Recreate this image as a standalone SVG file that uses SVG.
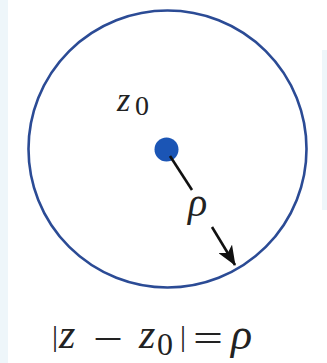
<svg xmlns="http://www.w3.org/2000/svg" width="327" height="363" viewBox="0 0 327 363">
  <style>
    .strip { fill: #eef6fa; }
  </style>
  <defs>
    <marker id="ah" viewBox="0 0 20 16" refX="19" refY="8" markerWidth="20" markerHeight="16" markerUnits="userSpaceOnUse" orient="auto">
      <path d="M0,0 L20,8 L0,16 L5,8 Z" fill="#111"/>
    </marker>
  </defs>
  <rect width="327" height="363" fill="#ffffff"/>
  <rect class="strip" x="0" y="0" width="8" height="363"/>
  <rect class="strip" x="322" y="50" width="5" height="160"/>

  <g id="circle">
    <ellipse cx="167.5" cy="149" rx="139" ry="138.5" fill="none" stroke="#2b4b95" stroke-width="2.6"/>
  </g>

  <g id="center" font-family="'Liberation Serif', 'Times New Roman', serif" fill="#222">
    <circle cx="166.5" cy="149.5" r="12" fill="#1b55b5"/>
    <text font-style="italic" x="117" y="111" font-size="34">z</text>
    <text x="135" y="115" font-size="28">0</text>
  </g>

  <g id="connectors">
    <line x1="170" y1="156" x2="192" y2="190" stroke="#111" stroke-width="2.6"/>
    <line x1="212" y1="227" x2="235" y2="265" stroke="#111" stroke-width="2.6" marker-end="url(#ah)"/>
  </g>

  <g id="radius-label" font-family="'Liberation Serif', 'Times New Roman', serif" fill="#222">
    <text font-style="italic" x="188" y="216" font-size="40">ρ</text>
  </g>

  <g id="equation" font-family="'Liberation Serif', 'Times New Roman', serif" fill="#222">
    <text x="52" y="346" font-size="30">|</text>
    <text font-style="italic" x="59" y="348" font-size="42">z</text>
    <text x="93" y="352" font-size="40" textLength="30" lengthAdjust="spacingAndGlyphs">−</text>
    <text font-style="italic" x="139" y="348" font-size="42">z</text>
    <text x="157" y="355" font-size="32">0</text>
    <text x="180" y="346" font-size="30">|</text>
    <text x="193" y="352" font-size="40" textLength="30" lengthAdjust="spacingAndGlyphs">=</text>
    <text font-style="italic" x="231" y="349" font-size="44">ρ</text>
  </g>
</svg>
